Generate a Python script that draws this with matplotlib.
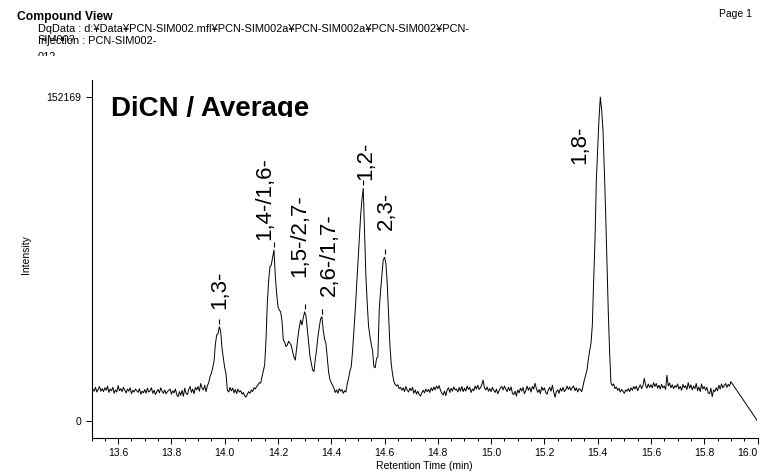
import numpy as np
import matplotlib
matplotlib.use('Agg')
import matplotlib.pyplot as plt
from matplotlib.ticker import MultipleLocator
from matplotlib.transforms import offset_copy, Bbox, TransformedBbox

plt.rcParams['font.family'] = ['Liberation Sans', 'DejaVu Sans']

W, H = 760, 474

# chromatogram: a scan every 0.005 min from 13.500 to 15.900, then the end point
retention_time = np.append(np.round(np.arange(13.5, 15.9025, 0.005), 3), 16.00)
intensity = [
    # 13.50
    13200, 15000, 14000, 15800, 13600, 14800, 16200, 14000, 15200, 13800,
    15600, 14400, 16400, 13400, 15000, 14200, 15800, 13000, 14600, 13600,
    # 13.60
    16600, 14200, 15200, 13800, 15800, 14400, 13200, 15000, 14000, 15600,
    12800, 14400, 13600, 15000, 14200, 13400, 15200, 12600, 14000, 13200,
    # 13.70
    14800, 13000, 15400, 13600, 14200, 15600, 13000, 14400, 12400, 13800,
    14800, 13200, 15600, 14000, 13000, 14600, 12800, 13800, 14400, 15000,
    # 13.80
    12600, 14200, 13200, 15000, 12400, 11400, 13800, 12000, 14400, 11600,
    15400, 13000, 12400, 14800, 16200, 13400, 15000, 12800, 15800, 14600,
    # 13.90
    16200, 14000, 17600, 15400, 14600, 16800, 13800, 16600, 18000, 20800,
    22500, 25000, 28000, 36000, 40500, 41000, 44300, 42000, 34000, 29500,
    # 14.00
    25000, 22000, 14500, 13600, 15800, 14200, 15400, 13200, 14800, 12800,
    15000, 13600, 14200, 12600, 13400, 11800, 11200, 12600, 13800, 13000,
    # 14.10
    14600, 13800, 15600, 15000, 16200, 16900, 18000, 17800, 20800, 23500,
    26300, 38000, 55400, 66000, 72500, 73300, 77000, 80300, 68000, 60000,
    # 14.20
    53700, 52100, 51300, 47000, 38000, 37000, 35000, 35700, 37500, 36500,
    35500, 32500, 30000, 28600, 34000, 39600, 44000, 47400, 45100, 48500,
    # 14.30
    51300, 49500, 43000, 36000, 30500, 27100, 24000, 23200, 29000, 33500,
    39600, 44000, 48000, 49000, 42500, 38500, 36500, 30000, 23000, 19500,
    # 14.40
    18000, 16800, 15400, 13400, 14600, 13000, 15200, 14000, 14800, 13000,
    14200, 13600, 17500, 20000, 23500, 25500, 33000, 42700, 52000, 63000,
    # 14.50
    73500, 85000, 96000, 104000, 109300, 88000, 68000, 55300, 44500, 40000,
    36000, 33000, 25500, 25000, 29400, 30200, 52100, 61000, 68500, 75600,
    # 14.60
    76900, 74000, 65000, 50000, 36000, 27000, 22000, 18500, 17200, 16400,
    17000, 15200, 15800, 14400, 15600, 13800, 16200, 14600, 13600, 15400,
    # 14.70
    14200, 15800, 13000, 14600, 12600, 14000, 12400, 11700, 13200, 14400,
    13200, 15000, 13800, 14800, 13400, 15600, 14200, 16000, 14600, 16400,
    # 14.80
    15200, 16600, 14400, 13000, 12200, 14000, 11900, 14600, 15600, 13400,
    15400, 14000, 16000, 14600, 15000, 13600, 15800, 14000, 16200, 13800,
    # 14.90
    15400, 14000, 16400, 14800, 15800, 13400, 15000, 14200, 16400, 15000,
    16800, 14800, 15600, 17000, 19200, 15600, 14600, 16000, 14000, 15200,
    # 15.00
    13800, 15800, 14400, 13400, 15000, 12800, 14200, 15600, 16200, 14600,
    16400, 15000, 13800, 15800, 14200, 16000, 13000, 12400, 14000, 11700,
    # 15.10
    14600, 13200, 15400, 14000, 15800, 12800, 14200, 16400, 14400, 15800,
    13600, 16200, 15000, 17700, 15200, 13400, 14800, 12800, 16000, 14400,
    # 15.20
    15600, 13400, 12600, 14600, 15800, 14000, 16800, 13600, 11200, 13800,
    14600, 13000, 15400, 14000, 15800, 13800, 14600, 16400, 14800, 16000,
    # 15.30
    14400, 15800, 16400, 14200, 15600, 13600, 15200, 14800, 13800, 16400,
    19300, 21500, 24000, 29000, 33000, 36600, 45000, 66000, 85000, 113000,
    # 15.40
    128000, 142000, 152169, 146000, 136700, 118000, 97700, 74000, 50700, 32000,
    17800, 16600, 17400, 15200, 16000, 14400, 15400, 13600, 14800, 14000,
    # 15.50
    13000, 14600, 14000, 15200, 13800, 15600, 14400, 16200, 15000, 16400,
    14200, 15800, 17000, 15200, 16600, 20000, 16800, 15400, 17400, 15800,
    # 15.60
    17000, 15600, 18000, 16200, 17600, 15400, 16800, 15000, 17200, 15600,
    16400, 14800, 21500, 16400, 17800, 15600, 17000, 15200, 16600, 15800,
    # 15.70
    17400, 15000, 16200, 14400, 17200, 15600, 16600, 14800, 18000, 15400,
    17000, 14600, 16400, 15200, 17600, 14200, 16000, 13800, 17400, 15000,
    # 15.80
    16200, 14400, 15800, 13200, 12800, 15400, 11400, 14600, 13800, 15600,
    14200, 16800, 15000, 17400, 15600, 16600, 17600, 15800, 17200, 16400,
    # 15.90
    18500,
    # 16.00
    0,
]

peak_labels = ['1,3-', '1,4-/1,6-', '1,5-/2,7-', '2,6-/1,7-', '1,2-', '2,3-', '1,8-']
peak_times = [13.98, 14.185, 14.30, 14.365, 14.52, 14.60, 15.41]
y_max = 152169

# label placement in pixels relative to the peak top (dx, dy)
label_dx = [0, -9, -5, 7, 3, 2, -21]
label_dy = [18, 10, 35, 21, 8, 27, -67]

fig = plt.figure(figsize=(W / 100, H / 100), dpi=100)
ax = fig.add_axes([91.5 / W, 1 - 438 / H, (757.5 - 91.5) / W, (438 - 80) / H])

ax.plot(retention_time, intensity, color='black', lw=0.7)

intensity = np.array(intensity)
for lab, t, dx, dy in zip(peak_labels, peak_times, label_dx, label_dy):
    i = np.argmin(np.abs(retention_time - t))
    tr = offset_copy(ax.transData, fig=fig, x=dx, y=dy, units='dots')
    ax.text(t, intensity[i], lab, rotation=90, ha='center', va='bottom',
            fontsize=16, transform=tr)
    if dy > 0:
        tr2 = offset_copy(ax.transData, fig=fig, y=6, units='dots')
        ax.plot([t], [intensity[i]], marker='|', ms=3.6, mew=0.8, color='black', transform=tr2)

ax.set_xlim(13.5, 16.0)
ax.set_ylim(-8000, 160200)
ax.set_xticks(np.round(np.arange(13.6, 16.01, 0.2), 1))
ax.set_xticklabels(['%.1f' % v for v in np.arange(13.6, 16.01, 0.2)])
ax.get_xticklabels()[-1].set_horizontalalignment('right')
ax.xaxis.set_minor_locator(MultipleLocator(0.05))
ax.set_yticks([0, y_max])
ax.set_yticklabels(['0', str(y_max)])
ax.tick_params(axis='both', which='major', direction='out', length=4, width=0.7, labelsize=7.5, pad=3.5)
ax.tick_params(axis='x', which='minor', direction='out', length=2.4, width=0.7)
for s in ['top', 'right']:
    ax.spines[s].set_visible(False)
for s in ['left', 'bottom']:
    ax.spines[s].set_linewidth(0.8)

def fx(px):
    return px / W

def fy(py):
    return 1 - py / H

# big title, bottom clipped like in the export
t1 = fig.text(fx(111), fy(116), 'DiCN / Average', fontsize=20, fontweight='bold', va='baseline')
t1.set_clip_box(TransformedBbox(Bbox([[0, fy(117)], [1, 1]]), fig.transFigure))

fig.text(fx(424), fy(466), 'Retention Time (min)', fontsize=7.5, ha='center', va='center')
fig.text(fx(26), fy(255), 'Intensity', fontsize=7.5, rotation=90, ha='center', va='center')

# header
fig.text(fx(17), fy(20), 'Compound View', fontsize=8.7, fontweight='bold', va='baseline')
fig.text(fx(752), fy(17), 'Page 1', fontsize=7.5, ha='right', va='baseline')
fig.text(fx(37.5), fy(31.7), 'DqData : d:¥Data¥PCN-SIM002.mfl¥PCN-SIM002a¥PCN-SIM002a¥PCN-SIM002¥PCN-',
         fontsize=7.9, va='baseline')
t2 = fig.text(fx(37.5), fy(43), 'SIM002', fontsize=7.9, va='baseline')
t2.set_clip_box(TransformedBbox(Bbox([[0, fy(40.7)], [1, 1]]), fig.transFigure))
fig.text(fx(37.5), fy(44), 'Injection : PCN-SIM002-', fontsize=7.9, va='baseline')
t3 = fig.text(fx(37.5), fy(59.5), '012', fontsize=7.9, va='baseline')
t3.set_clip_box(TransformedBbox(Bbox([[0, fy(55.5)], [1, 1]]), fig.transFigure))

fig.savefig('out.png', dpi=100)
